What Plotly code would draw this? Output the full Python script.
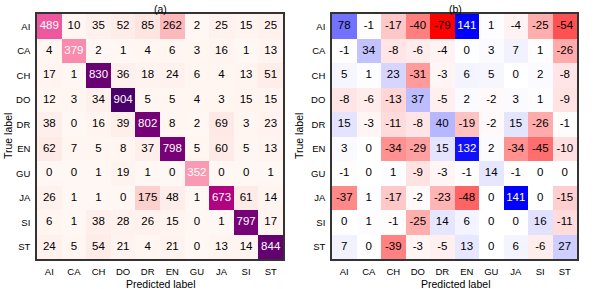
import plotly.graph_objects as go

labels = ["AI", "CA", "CH", "DO", "DR", "EN", "GU", "JA", "SI", "ST"]

counts = [
    [489, 10, 35, 52, 85, 262, 2, 25, 15, 25],
    [4, 379, 2, 1, 4, 6, 3, 16, 1, 13],
    [17, 1, 830, 36, 18, 24, 6, 4, 13, 51],
    [12, 3, 34, 904, 5, 5, 4, 3, 15, 15],
    [38, 0, 16, 39, 802, 8, 2, 69, 3, 23],
    [62, 7, 5, 8, 37, 798, 5, 60, 5, 13],
    [0, 0, 1, 19, 1, 0, 352, 0, 0, 1],
    [26, 1, 1, 0, 175, 48, 1, 673, 61, 14],
    [6, 1, 38, 28, 26, 15, 0, 1, 797, 17],
    [24, 5, 54, 21, 4, 21, 0, 13, 14, 844],
]

diffs = [
    [78, -1, -17, -40, -79, 141, 1, -4, -25, -54],
    [-1, 34, -8, -6, -4, 0, 3, 7, 1, -26],
    [5, 1, 23, -31, -3, 6, 5, 0, 2, -8],
    [-8, -6, -13, 37, -5, 2, -2, 3, 1, -9],
    [15, -3, -11, -8, 40, -19, -2, 15, -26, -1],
    [3, 0, -34, -29, 15, 132, 2, -34, -45, -10],
    [-1, 0, 1, -9, -3, -1, 14, -1, 0, 0],
    [-37, 1, -17, -2, -23, -48, 0, 141, 0, -15],
    [0, 1, -1, -25, 14, 6, 0, 0, 16, -11],
    [7, 0, -39, -3, -5, 13, 0, 6, -6, 27],
]

W, H = 598, 289
FONT = "Liberation Sans, Arial, sans-serif"

def px(x):
    return x / W

def py(y):
    return 1 - y / H

rdpu = [
    [0.0, "#fff7f3"], [0.125, "#fde0dd"], [0.25, "#fcc5c0"], [0.375, "#fa9fb5"],
    [0.5, "#f768a1"], [0.625, "#dd3497"], [0.75, "#ae017e"], [0.875, "#7a0177"],
    [1.0, "#49006a"],
]

dmin = min(min(r) for r in diffs)
dmax = max(max(r) for r in diffs)
mid = (0 - dmin) / (dmax - dmin)
bwr_r = [[0.0, "rgb(255,0,0)"], [mid, "rgb(255,255,255)"], [1.0, "rgb(0,0,255)"]]

fig = go.Figure()

def add_matrix(z, xa, ya, cs, zmin, zmax, thresh):
    fig.add_trace(go.Heatmap(
        z=z, x=labels, y=labels, colorscale=cs, zmin=zmin, zmax=zmax,
        showscale=False, xaxis=xa, yaxis=ya, hoverinfo="skip",
    ))
    xs, ys, ts, cols = [], [], [], []
    for i, row in enumerate(z):
        for j, v in enumerate(row):
            xs.append(labels[j]); ys.append(labels[i]); ts.append(str(v))
            cols.append("white" if v > thresh else "black")
    fig.add_trace(go.Scatter(
        x=xs, y=ys, text=ts, mode="text", xaxis=xa, yaxis=ya,
        textfont=dict(color=cols, size=11.5, family=FONT), hoverinfo="skip",
        showlegend=False,
    ))

add_matrix(counts, "x", "y", rdpu, 0, max(max(r) for r in counts), 300)
add_matrix(diffs, "x2", "y2", bwr_r, dmin, dmax, 100)

ydom = [py(259), py(14)]
axis_common = dict(
    showline=True, mirror=True, linecolor="#333333", linewidth=1.5,
    ticks="outside", ticklen=3, tickcolor="rgba(0,0,0,0)",
    tickfont=dict(size=9.5, family=FONT, color="black"),
    showgrid=False, zeroline=False, type="category",
)
fig.update_layout(
    width=W, height=H, margin=dict(l=0, r=0, t=0, b=0),
    plot_bgcolor="white", paper_bgcolor="white", showlegend=False,
    xaxis=dict(domain=[px(37), px(283)], anchor="y", **axis_common),
    yaxis=dict(domain=ydom, anchor="x", autorange="reversed", **axis_common),
    xaxis2=dict(domain=[px(332), px(577)], anchor="y2", **axis_common),
    yaxis2=dict(domain=ydom, anchor="x2", autorange="reversed", **axis_common),
)

def ann(text, x, y, angle=0, size=10.5):
    fig.add_annotation(text=text, x=px(x), y=py(y), xref="paper", yref="paper",
                       showarrow=False, textangle=angle, borderpad=0,
                       font=dict(size=size, family=FONT, color="black"),
                       xanchor="center", yanchor="middle")

ann("(a)", 160, 8.5)
ann("(b)", 455, 8.5)
ann("Predicted label", 160, 283.5)
ann("Predicted label", 455, 283.5)
ann("True label", 8, 136, angle=-90)
ann("True label", 299, 136, angle=-90)

fig.write_html(
    "out.html",
    config={"displayModeBar": False},
    post_script="document.body.style.margin='0';document.body.style.padding='0';",
)
